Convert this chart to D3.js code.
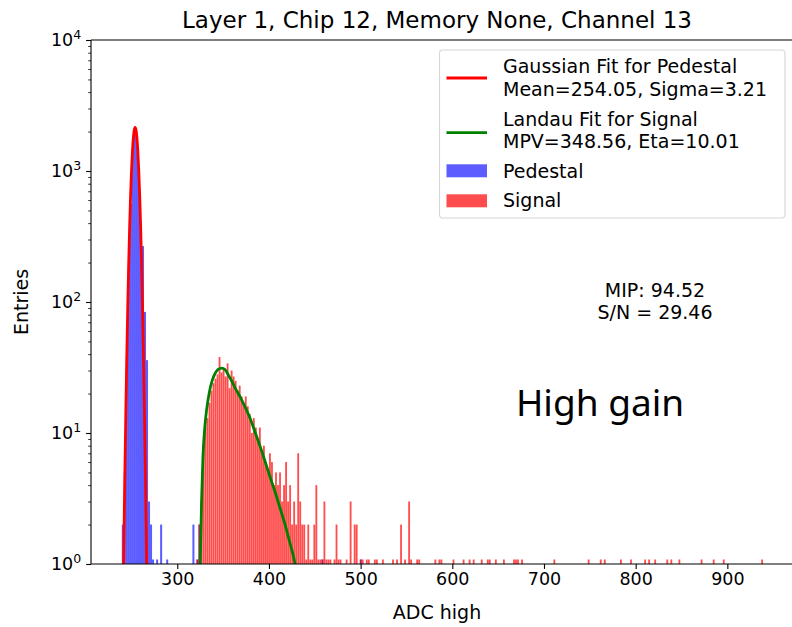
<!DOCTYPE html>
<html>
<head>
<meta charset="utf-8">
<script src="https://cdn.jsdelivr.net/npm/d3@7"></script>
<style>
  html, body { margin: 0; padding: 0; background: #fff; }
  svg { display: block; }
  text { font-family: "DejaVu Sans", sans-serif; fill: #000; }
</style>
</head>
<body>
<svg id="chart" width="792" height="627"></svg>
<script>
// ---------------- data ----------------
const titleText = "Layer 1, Chip 12, Memory None, Channel 13";
const xLabel = "ADC high";
const yLabel = "Entries";
const xTicks = [300, 400, 500, 600, 700, 800, 900];
const yTicks = [1, 10, 100, 1000, 10000];
const yTickExps = ["0", "1", "2", "3", "4"];

// histogram binning
const binStart = 239.5;
const binWidth = 2.2;

// pedestal histogram: consecutive bins from binStart
const pedestalCounts = [2, 5, 40, 190, 560, 1500, 2100, 1800, 1000, 330, 267, 84, 36, 3, 2, 1, 0, 1, 0, 2, 0, 0, 1];
// isolated pedestal entries far from the peak
const pedestalExtraAdc = [317.6, 322.7, 324.2, 457.7, 500.0];
const pedestalExtraCounts = [2, 1, 2, 1, 1];

// signal histogram: consecutive bins from signalStartAdc
const signalStartAdc = 320.9;
const signalCounts = [
  1, 2, 3, 8, 11, 13, 17, 21, 24, 26,
  28, 38, 29, 31, 27, 34, 22, 30, 27, 25,
  21, 23, 19, 17, 19, 16, 14, 10, 13, 11,
  9, 11, 7, 8, 6, 5, 7, 6, 4, 5,
  4, 5, 3, 4, 6, 3, 4, 2, 3, 2,
  7, 3, 2, 2, 1, 2, 1, 1, 2, 4,
  1, 1, 1, 3, 1, 1, 1, 0, 1, 2,
  1, 1, 0, 0, 1, 0, 3, 0, 2, 2
];
// sparse signal tail
const signalTailAdc = [500, 503, 507, 510, 515, 518, 525, 536, 540, 545, 549, 553, 555, 561, 564,
  582, 586, 589, 601, 613, 619, 623, 632, 638, 641, 648, 657, 667, 669, 671, 676,
  711, 748, 761, 766, 784, 795, 810, 815, 821, 835, 840, 848, 871, 885, 897, 938];
const signalTailCounts = [1, 1, 1, 1, 1, 1, 1, 1, 1, 2, 1, 3, 1, 1, 1,
  1, 1, 1, 1, 1, 1, 1, 1, 1, 1, 1, 1, 1, 1, 1, 1,
  1, 1, 1, 1, 1, 1, 1, 1, 1, 1, 1, 1, 1, 1, 1, 1];

// Gaussian fit curve
const gaussAdc = [241, 242, 243, 244, 245, 246, 247, 248, 249, 250, 251, 252, 253, 254,
  255, 256, 257, 258, 259, 260, 261, 262, 263, 264, 265, 266, 267];
const gaussVal = [0.55, 1.9, 5.8, 16, 40, 93, 193, 364, 624, 970, 1369, 1754, 2038, 2150,
  2058, 1788, 1410, 1009, 655, 386, 206, 100, 44, 17.6, 6.4, 2.1, 0.63];

// Landau fit curve
const landauAdc = [325, 326.5, 328, 330, 332, 335, 338, 341, 344.5, 348.5, 352, 356, 360, 364,
  368.5, 374, 379.5, 385, 390.4, 396, 401.3, 407, 412.2, 418, 423, 426, 428.5];
const landauVal = [1.0, 3, 6.5, 11, 15, 20.5, 25, 28.3, 30.6, 31.3, 30.5, 27.5, 24.5, 21.5,
  18.9, 15.8, 12.9, 10.1, 7.9, 6.0, 4.6, 3.5, 2.66, 1.95, 1.44, 1.2, 1.0];

const legendLabels = [
  ["Gaussian Fit for Pedestal", "Mean=254.05, Sigma=3.21"],
  ["Landau Fit for Signal", "MPV=348.56, Eta=10.01"],
  ["Pedestal"],
  ["Signal"]
];
const annotationLines = ["MIP: 94.52", "S/N = 29.46"];
const gainText = "High gain";

// ---------------- layout ----------------
const margin = { left: 91, top: 40, right: 794, bottom: 564 };
const svg = d3.select("#chart");

const x = d3.scaleLinear().domain([205.9, 972.7]).range([margin.left, margin.right]);
const y = d3.scaleLog().domain([1, 10000]).range([margin.bottom, margin.top]);

function toBins(startAdc, counts) {
  return counts.map((c, i) => ({ x0: startAdc + i * binWidth, count: c })).filter(d => d.count > 0);
}
function snap(adc) {
  return binStart + Math.floor((adc - binStart) / binWidth) * binWidth;
}
const pedBins = toBins(binStart, pedestalCounts)
  .concat(pedestalExtraAdc.map((a, i) => ({ x0: snap(a), count: pedestalExtraCounts[i] })));
const sigBins = toBins(signalStartAdc, signalCounts)
  .concat(signalTailAdc.map((a, i) => ({ x0: snap(a), count: signalTailCounts[i] })));

svg.append("defs").append("clipPath").attr("id", "plotclip")
  .append("rect").attr("x", margin.left).attr("y", margin.top)
  .attr("width", margin.right - margin.left).attr("height", margin.bottom - margin.top);

const plot = svg.append("g").attr("clip-path", "url(#plotclip)");
const stubPx = 4.5;

function drawBars(bins, color, opacity, seam) {
  plot.append("g").selectAll("rect").data(bins).join("rect")
    .attr("x", d => x(d.x0))
    .attr("width", d => x(d.x0 + binWidth) - x(d.x0) - seam)
    .attr("y", d => Math.min(y(d.count), y(1) - stubPx))
    .attr("height", d => y(1) - Math.min(y(d.count), y(1) - stubPx))
    .attr("fill", color).attr("fill-opacity", opacity);
}
drawBars(pedBins, "#0000ff", 0.64, 0);
drawBars(sigBins, "#ff0000", 0.7, 0.2);

const line = d3.line().x(d => x(d[0])).y(d => y(d[1])).curve(d3.curveMonotoneX);
plot.append("path")
  .attr("d", line(gaussAdc.map((a, i) => [a, gaussVal[i]])))
  .attr("fill", "none").attr("stroke", "#ff0000").attr("stroke-width", 2.8);
plot.append("path")
  .attr("d", line(landauAdc.map((a, i) => [a, landauVal[i]])))
  .attr("fill", "none").attr("stroke", "#008000").attr("stroke-width", 2.8);

// ---------------- axes ----------------
const axisColor = "#000";
svg.append("line").attr("x1", margin.left).attr("x2", margin.left).attr("y1", margin.top).attr("y2", margin.bottom)
  .attr("stroke", axisColor).attr("stroke-width", 1.1);
svg.append("line").attr("x1", margin.left).attr("x2", margin.right).attr("y1", margin.bottom).attr("y2", margin.bottom)
  .attr("stroke", axisColor).attr("stroke-width", 1.1);
svg.append("line").attr("x1", margin.left).attr("x2", margin.right).attr("y1", margin.top).attr("y2", margin.top)
  .attr("stroke", axisColor).attr("stroke-width", 1.1);
svg.append("line").attr("x1", margin.right).attr("x2", margin.right).attr("y1", margin.top).attr("y2", margin.bottom)
  .attr("stroke", axisColor).attr("stroke-width", 1.1);

const xAxis = d3.axisBottom(x).tickValues(xTicks).tickSize(4.9).tickPadding(4).tickFormat(d3.format("d"));
const gx = svg.append("g").attr("transform", `translate(0,${margin.bottom})`).call(xAxis);
gx.select(".domain").remove();
gx.selectAll(".tick line").attr("stroke", axisColor).attr("stroke-width", 1.1);
gx.selectAll(".tick text").attr("font-size", 17.5).attr("font-family", "DejaVu Sans").attr("fill", "#000");

const yAxis = d3.axisLeft(y).tickValues(yTicks).tickSize(4.9).tickFormat("");
const gy = svg.append("g").attr("transform", `translate(${margin.left},0)`).call(yAxis);
gy.select(".domain").remove();
gy.selectAll(".tick line").attr("stroke", axisColor).attr("stroke-width", 1.1);
gy.selectAll(".tick").each(function (d, i) {
  const t = d3.select(this).append("text")
    .attr("x", -9.8).attr("dy", "0.32em")
    .attr("text-anchor", "end").attr("font-size", 17.5).attr("fill", "#000");
  t.append("tspan").text("10");
  t.append("tspan").attr("dy", "-0.55em").attr("font-size", 12.5).text(yTickExps[i]);
});
const minorVals = [];
for (let k = 0; k < 4; k++) for (let m = 2; m <= 9; m++) minorVals.push(m * Math.pow(10, k));
const yMinor = d3.axisLeft(y).tickValues(minorVals).tickSize(2.8).tickFormat("");
const gym = svg.append("g").attr("transform", `translate(${margin.left},0)`).call(yMinor);
gym.select(".domain").remove();
gym.selectAll(".tick line").attr("stroke", axisColor).attr("stroke-width", 0.8);

svg.append("text").attr("x", 437).attr("y", 28).attr("text-anchor", "middle")
  .attr("font-size", 23).text(titleText);
svg.append("text").attr("x", 437).attr("y", 619).attr("text-anchor", "middle")
  .attr("font-size", 19).text(xLabel);
svg.append("text").attr("transform", `translate(28,${(margin.top + margin.bottom) / 2}) rotate(-90)`)
  .attr("text-anchor", "middle").attr("font-size", 19).text(yLabel);

annotationLines.forEach((s, i) => {
  svg.append("text").attr("x", 655).attr("y", 297 + i * 22).attr("text-anchor", "middle")
    .attr("font-size", 19).text(s);
});
svg.append("text").attr("x", 600).attr("y", 416).attr("text-anchor", "middle")
  .attr("font-size", 37).style("font-family", "'Noto Sans', sans-serif").text(gainText);

// ---------------- legend ----------------
const lg = svg.append("g");
lg.append("rect").attr("x", 439.5).attr("y", 50).attr("width", 345.5).attr("height", 168)
  .attr("rx", 3.5).attr("fill", "#fff").attr("fill-opacity", 0.8).attr("stroke", "#d6d6d6").attr("stroke-width", 1.1);
const handleX0 = 446.5, handleX1 = 487, textX = 503;
lg.append("line").attr("x1", handleX0).attr("x2", handleX1).attr("y1", 78).attr("y2", 78)
  .attr("stroke", "#ff0000").attr("stroke-width", 2.8);
lg.append("text").attr("x", textX).attr("y", 73.3).attr("font-size", 19).text(legendLabels[0][0]);
lg.append("text").attr("x", textX).attr("y", 95.5).attr("font-size", 19).text(legendLabels[0][1]);
lg.append("line").attr("x1", handleX0).attr("x2", handleX1).attr("y1", 132.7).attr("y2", 132.7)
  .attr("stroke", "#008000").attr("stroke-width", 2.8);
lg.append("text").attr("x", textX).attr("y", 126).attr("font-size", 19).text(legendLabels[1][0]);
lg.append("text").attr("x", textX).attr("y", 148.3).attr("font-size", 19).text(legendLabels[1][1]);
lg.append("rect").attr("x", handleX0).attr("y", 164.3).attr("width", handleX1 - handleX0).attr("height", 13)
  .attr("fill", "#0000ff").attr("fill-opacity", 0.64);
lg.append("text").attr("x", textX).attr("y", 177.5).attr("font-size", 19).text(legendLabels[2][0]);
lg.append("rect").attr("x", handleX0).attr("y", 194.3).attr("width", handleX1 - handleX0).attr("height", 13)
  .attr("fill", "#ff0000").attr("fill-opacity", 0.7);
lg.append("text").attr("x", textX).attr("y", 206.5).attr("font-size", 19).text(legendLabels[3][0]);
</script>
</body>
</html>
